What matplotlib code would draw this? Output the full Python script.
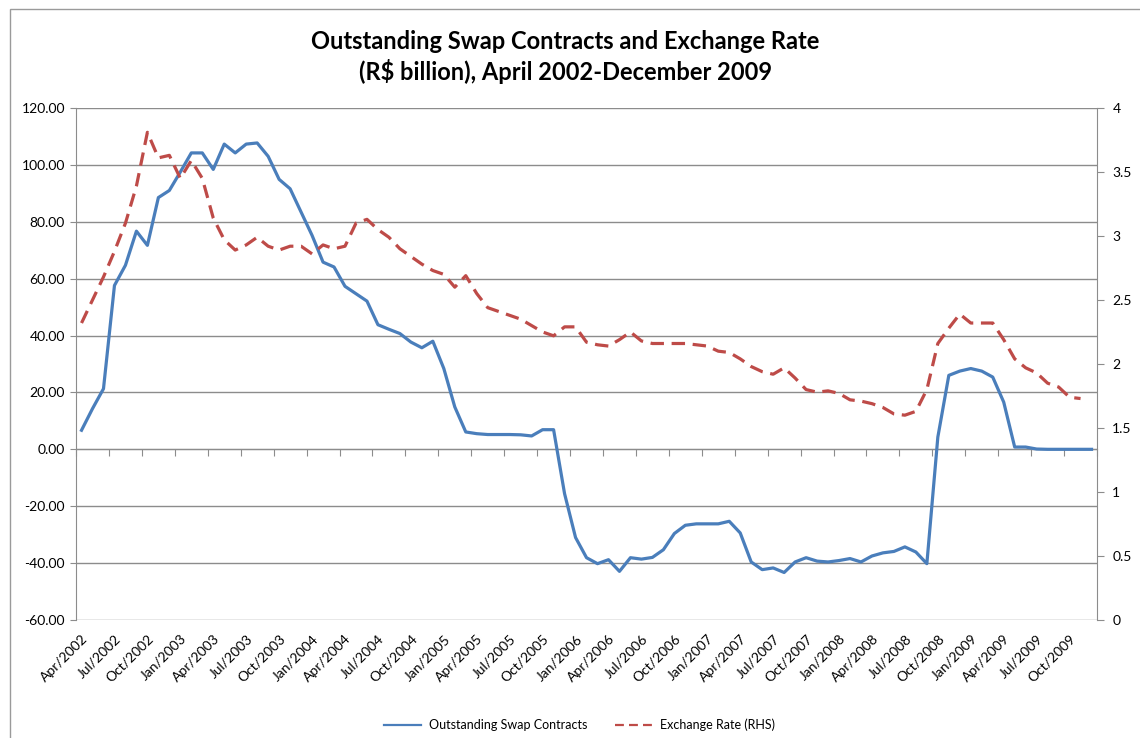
import numpy as np
import matplotlib
matplotlib.use("Agg")
import matplotlib.pyplot as plt
from matplotlib.ticker import FuncFormatter, MultipleLocator
from matplotlib.patches import Rectangle

# Monthly, April 2002 - December 2009
months = ["Jan", "Feb", "Mar", "Apr", "May", "Jun",
          "Jul", "Aug", "Sep", "Oct", "Nov", "Dec"]
dates = [f"{months[m]}/{y}" for y in range(2002, 2010) for m in range(12)][3:]

swaps = [6.7, 14.3, 21.3, 57.6, 64.7, 76.7, 71.7, 88.5, 91.0, 97.5,
         104.2, 104.2, 98.4, 107.3, 104.2, 107.3, 107.7, 103.0, 94.9, 91.6,
         83.4, 75.2, 65.8, 64.1, 57.3, 54.7, 52.1, 43.8, 42.2, 40.7,
         37.7, 35.7, 38.0, 28.4, 14.9, 6.1, 5.5, 5.2, 5.2, 5.2,
         5.1, 4.7, 6.9, 6.9, -15.6, -31.0, -38.1, -40.2, -38.8, -42.9,
         -38.1, -38.6, -38.0, -35.3, -29.6, -26.7, -26.2, -26.2, -26.2, -25.3,
         -29.4, -39.6, -42.3, -41.7, -43.3, -39.6, -38.1, -39.3, -39.6, -39.1,
         -38.4, -39.6, -37.5, -36.4, -35.9, -34.3, -36.1, -40.2, 4.3, 26.0,
         27.5, 28.4, 27.5, 25.4, 16.6, 0.8, 0.8, 0.1, 0.0, 0.0,
         0.0, 0.0, 0.0]

fx_rate = [2.32, 2.50, 2.68, 2.88, 3.10, 3.39, 3.81, 3.61, 3.63, 3.45,
           3.59, 3.45, 3.14, 2.97, 2.89, 2.93, 2.99, 2.92, 2.89, 2.92,
           2.92, 2.86, 2.93, 2.90, 2.92, 3.10, 3.13, 3.05, 2.99, 2.90,
           2.84, 2.78, 2.73, 2.70, 2.60, 2.69, 2.55, 2.44, 2.41, 2.38,
           2.35, 2.30, 2.25, 2.22, 2.29, 2.29, 2.17, 2.15, 2.14, 2.19,
           2.25, 2.18, 2.16, 2.16, 2.16, 2.16, 2.15, 2.14, 2.10, 2.09,
           2.04, 1.98, 1.94, 1.92, 1.97, 1.89, 1.80, 1.78, 1.79, 1.77,
           1.72, 1.71, 1.69, 1.66, 1.61, 1.60, 1.63, 1.80, 2.16, 2.28,
           2.39, 2.32, 2.32, 2.32, 2.19, 2.04, 1.97, 1.93, 1.85, 1.82,
           1.74, 1.73, np.nan]

font = "Lato"
grid_col = "#8c8c8c"
blue = "#4a7ebb"
red = "#be4b48"

fig = plt.figure(figsize=(11.4, 7.38), dpi=100)
# chart frame, cut off on the right and bottom
fig.patches.append(Rectangle((10 / 1140, -0.1), 1.2, 1 - 9.5 / 738 + 0.1,
                             transform=fig.transFigure, fill=False,
                             edgecolor="#9a9a9a", lw=1))
ax = fig.add_axes([0.0667, 0.1599, 0.8956, 0.6938])
ax2 = ax.twinx()

x = np.arange(len(dates))
l1, = ax.plot(x, swaps, color=blue, lw=2.3, solid_joinstyle="round", zorder=3)
l2, = ax2.plot(x, fx_rate, color=red, lw=2.3, linestyle=(0, (4.2, 2.4)), zorder=3)

ax.set_xlim(-0.5, len(dates) - 0.5)
ax.set_ylim(-60, 120)
ax.yaxis.set_major_locator(MultipleLocator(20))
ax.yaxis.set_major_formatter(FuncFormatter(lambda v, p: f"{v:.2f}"))
ax.grid(axis="y", color=grid_col, lw=1)
ax.set_axisbelow(True)

ax2.set_ylim(0, 4)
ax2.yaxis.set_major_locator(MultipleLocator(0.5))
ax2.yaxis.set_major_formatter(FuncFormatter(lambda v, p: f"{v:g}"))

for a in (ax, ax2):
    for s in a.spines.values():
        s.set_visible(False)
ax.spines["left"].set_visible(True)
ax.spines["left"].set_color(grid_col)
ax2.spines["right"].set_visible(True)
ax2.spines["right"].set_color(grid_col)

# category labels at the bottom
ax.set_xticks(x[::3])
ax.set_xticklabels(dates[::3], rotation=45, ha="right", rotation_mode="anchor",
                   fontsize=10, family=font)
ax.tick_params(axis="x", length=0, pad=9)
ax.tick_params(axis="y", length=4, color=grid_col, labelsize=10, pad=4)
ax2.tick_params(axis="y", length=5, color=grid_col, labelsize=10, pad=6)
for lab in ax.get_yticklabels() + ax2.get_yticklabels():
    lab.set_family(font)

# category axis crossing at zero
zero_axis = ax.secondary_xaxis(1 / 3)
zero_axis.set_xticks(np.arange(-0.5, len(dates), 3))
zero_axis.tick_params(axis="x", direction="out", length=5, color=grid_col,
                      labelbottom=False)
zero_axis.spines["bottom"].set_color(grid_col)

fig.text(0.496, 0.923, "Outstanding Swap Contracts and Exchange Rate\n"
         r"(R\$ billion), April 2002-December 2009",
         ha="center", va="center", fontsize=17, fontweight="bold", family=font,
         linespacing=1.3)

leg = fig.legend([l1, l2], ["Outstanding Swap Contracts", "Exchange Rate (RHS)"],
                 loc="lower center", bbox_to_anchor=(0.508, -0.006), ncol=2,
                 frameon=False, prop={"family": font, "size": 9},
                 handlelength=3.0, handletextpad=0.6, columnspacing=2.2)
for h in leg.legend_handles:
    h.set_linewidth(1.6)
leg.legend_handles[1].set_linestyle((0, (4.0, 2.3)))

fig.savefig("out.png", dpi=100)
